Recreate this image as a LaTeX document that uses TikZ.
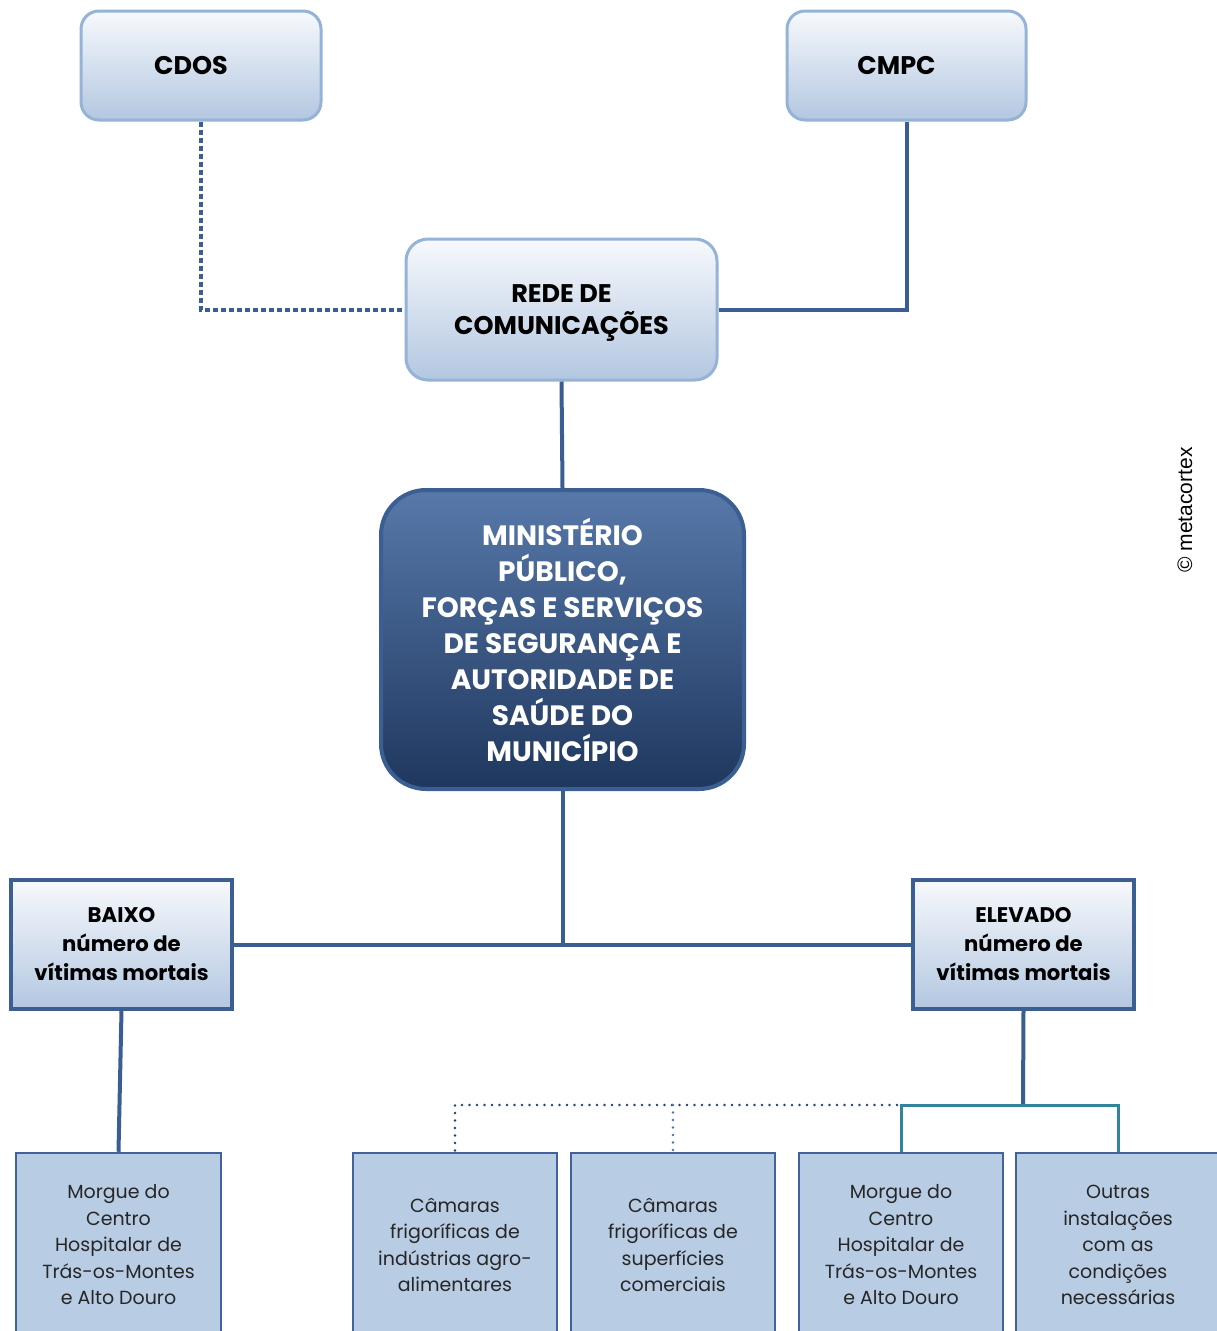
\documentclass[tikz,border=0pt]{standalone}
\usepackage{fontspec}
\setmainfont{Poppins}
\newfontfamily\arialfont{Liberation Sans}
\definecolor{lborder}{HTML}{95B3D7}
\definecolor{ltop}{HTML}{F7F9FC}
\definecolor{lbot}{HTML}{B3C7E1}
\definecolor{conn}{HTML}{3A5E93}
\definecolor{dborder}{HTML}{3B5E93}
\definecolor{mtop}{HTML}{5779AA}
\definecolor{mbot}{HTML}{1F375E}
\definecolor{bfill}{HTML}{B8CCE4}
\definecolor{bborder}{HTML}{41639A}
\definecolor{tealc}{HTML}{31849B}
\definecolor{dotc}{HTML}{24406E}
\definecolor{dotc2}{HTML}{4A72A8}
\tikzset{
  topbox/.style={draw=lborder, line width=3pt, rounded corners=18pt, top color=ltop, bottom color=lbot, align=center, inner sep=0pt, font=\bfseries\fontsize{25.5}{32}\selectfont},
  minbox/.style={draw=dborder, line width=4pt, rounded corners=45pt, top color=mtop, bottom color=mbot, align=center, inner sep=0pt, text=white, font=\bfseries\fontsize{28}{36}\selectfont},
  levelbox/.style={draw=dborder, line width=3.5pt, top color=ltop, bottom color=lbot, align=center, inner sep=0pt, font=\bfseries\fontsize{21.2}{29}\selectfont, minimum width=221pt, minimum height=129pt},
  placebox/.style={draw=bborder, line width=2.5pt, fill=bfill, align=center, inner sep=0pt, font=\fontsize{19}{26.5}\selectfont, text=black!85, minimum height=184pt},
  conn/.style={draw=conn, line width=4pt},
  sqdots/.style={conn, dash pattern=on 5pt off 3pt},
  tealline/.style={draw=tealc, line width=3pt},
  rdots/.style={draw=dotc, line width=2.8pt, line cap=round, dash pattern=on 0pt off 7.5pt},
}
\begin{document}
\begin{tikzpicture}[x=1pt,y=-1pt]
\useasboundingbox (0,0) rectangle (1217,1331);
\clip (0,0) rectangle (1217,1331);
\fill[white] (0,0) rectangle (1217,1331);

\coordinate (ej) at (1023,1105);
\coordinate (dl) at (897,1105);

\node[topbox, minimum width=240pt, minimum height=109pt] (cdos) at (201,65.5) {\hspace*{-20pt}CDOS};
\node[topbox, minimum width=239pt, minimum height=109pt] (cmpc) at (906.5,65.5) {\hspace*{-20pt}CMPC};
\node[topbox, rounded corners=22pt, minimum width=311pt, minimum height=141pt, text depth=0pt] (rede) at (561.5,309.5) {REDE DE\\COMUNICAÇÕES};
\node[minbox, minimum width=363pt, minimum height=299pt] (min) at (562.5,639.5) {MINISTÉRIO\\PÚBLICO,\\FORÇAS E SERVIÇOS\\DE SEGURANÇA E\\AUTORIDADE DE\\SAÚDE DO\\MUNICÍPIO};
\node[levelbox] (baixo) at (121.5,944.5) {BAIXO\\número de\\vítimas mortais};
\node[levelbox] (elevado) at (1023.5,944.5) {ELEVADO\\número de\\vítimas mortais};

\node[placebox, minimum width=205pt] (b1) at (118.5,1245) {Morgue do\\Centro\\Hospitalar de\\Trás-os-Montes\\e Alto Douro};
\node[placebox, minimum width=204pt] (b2) at (455,1245) {Câmaras\\frigoríficas de\\indústrias agro-\\alimentares};
\node[placebox, minimum width=204pt] (b3) at (673,1245) {Câmaras\\frigoríficas de\\superfícies\\comerciais};
\node[placebox, minimum width=204pt] (b4) at (901,1245) {Morgue do\\Centro\\Hospitalar de\\Trás-os-Montes\\e Alto Douro};
\node[placebox, minimum width=204pt] (b5) at (1118,1245) {Outras\\instalações\\com as\\condições\\necessárias};

\node[rotate=90, font=\arialfont\fontsize{21}{21}\selectfont] (copy) at (1185,510) {© metacortex};

\draw[sqdots] (cdos.south) |- (rede.west);
\draw[conn] (cmpc.south) |- (rede.east);
\draw[conn] (rede.south) -- (min.north);
\draw[conn] (min.south) -- (min.south |- baixo.east);
\draw[conn] (baixo.east) -- (elevado.west);
\draw[conn] (baixo.south) -- (b1.north);
\draw[conn] (elevado.south) -- (ej);
\draw[tealline] (b4.north) |- (b5.north |- ej) -- (b5.north);
\draw[rdots] (dl) -| (b2.north);
\draw[rdots, draw=dotc2] (b3.north |- dl) -- (b3.north);
\end{tikzpicture}
\end{document}
